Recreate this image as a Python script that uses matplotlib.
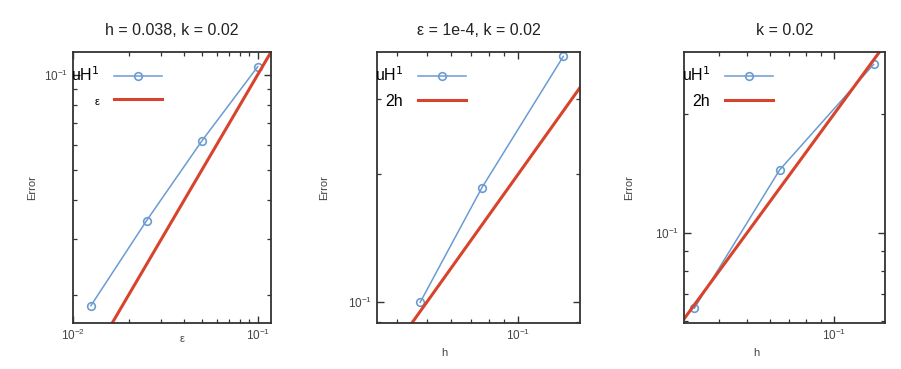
import matplotlib
matplotlib.use('Agg')
import matplotlib.pyplot as plt
from matplotlib.ticker import NullFormatter

plt.rcParams['font.family'] = ['Liberation Sans', 'DejaVu Sans']

# left panel: error against epsilon
eps = [0.0125, 0.025, 0.05, 0.1]
err_eps = [0.0185, 0.0344, 0.0618, 0.106]
ref_eps_x = [0.01, 0.13]
ref_eps_y = [0.01, 0.13]

# middle panel: error against h (eps = 1e-4)
h_mid = [0.0476, 0.076, 0.141]
err_mid = [0.100, 0.186, 0.379]
ref_mid_x = [0.03, 0.17]
ref_mid_y = [0.06, 0.34]

# right panel: error against h
h_right = [0.0329, 0.0649, 0.137]
err_right = [0.0645, 0.1445, 0.267]
ref_right_x = [0.028, 0.16]
ref_right_y = [0.056, 0.32]

titles = ['h = 0.038, k = 0.02', 'ε = 1e-4, k = 0.02', 'k = 0.02']
xlabels = ['ε', 'h', 'h']
ref_labels = ['ε', '2h', '2h']

BLUE = '#6b9bd2'
RED = '#d8432c'
DARK = '#333333'

fig = plt.figure(figsize=(9.01, 3.69), dpi=100)

# axes boxes in pixels: left, right
boxes = [(73, 271), (377, 580), (684, 885)]
top, bottom = 52, 323
W, H = 901, 369

limits = [
    ((0.01, 0.118), (0.0163, 0.118)),
    ((0.0343, 0.16), (0.0894, 0.388)),
    ((0.0303, 0.15), (0.0592, 0.287)),
]
data = [
    (eps, err_eps, ref_eps_x, ref_eps_y),
    (h_mid, err_mid, ref_mid_x, ref_mid_y),
    (h_right, err_right, ref_right_x, ref_right_y),
]
ylabel_x = [-0.182, -0.236, -0.249]
xlabel_pos = [(0.55, -0.04), (0.33, -0.092), (0.36, -0.092)]

for i in range(3):
    l, r = boxes[i]
    ax = fig.add_axes([l / W, 1 - bottom / H, (r - l) / W, (bottom - top) / H])
    x, y, rx, ry = data[i]

    ax.plot(x, y, color=BLUE, lw=1.1, marker='o', ms=5.5, mfc='none',
            mec=BLUE, mew=1.2, label='uH$^1$')
    ax.plot(rx, ry, color=RED, lw=2.2, label=ref_labels[i])

    ax.set_xscale('log')
    ax.set_yscale('log')
    ax.set_xlim(*limits[i][0])
    ax.set_ylim(*limits[i][1])

    ax.xaxis.set_minor_formatter(NullFormatter())
    ax.yaxis.set_minor_formatter(NullFormatter())
    ax.tick_params(which='both', direction='in', top=True, right=True,
                   colors=DARK, labelsize=8.5, labelcolor='#444444')
    ax.tick_params(which='major', length=5, width=1)
    ax.tick_params(which='minor', length=3, width=0.9)
    for s in ax.spines.values():
        s.set_color(DARK)
        s.set_linewidth(1.3)

    ax.set_title(titles[i], fontsize=11.5, color='#222222', pad=12)
    ax.set_ylabel('Error', fontsize=8, color='#444444')
    ax.yaxis.set_label_coords(ylabel_x[i], 0.5)
    ax.set_xlabel(xlabels[i], fontsize=8, color='#444444')
    ax.xaxis.set_label_coords(*xlabel_pos[i])

    leg = ax.legend(loc='upper left', bbox_to_anchor=(-0.035, 0.968),
                    markerfirst=False, frameon=False, fontsize=11.5,
                    handlelength=3.0, handletextpad=0.9,
                    labelspacing=0.6, borderpad=0.3, borderaxespad=0)
    if i == 0:
        leg.get_texts()[1].set_fontsize(8)

fig.savefig('out.png', dpi=100)
